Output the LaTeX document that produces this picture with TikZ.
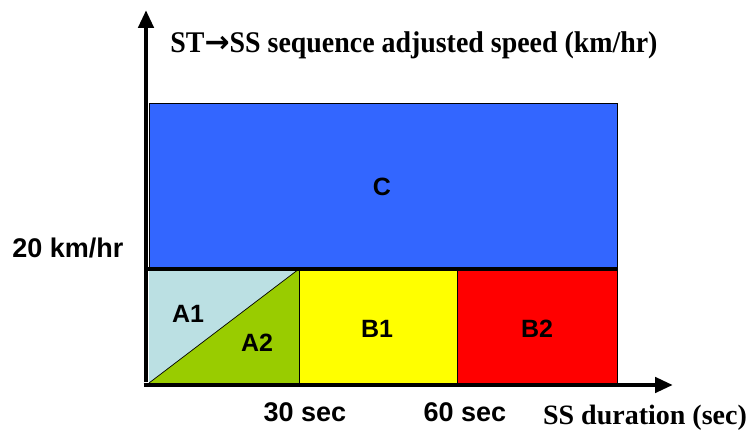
\documentclass[tikz,border=0pt]{standalone}
\usepackage{fontspec}
\setmainfont{Liberation Serif}
\setsansfont{Liberation Sans}
\newfontfamily\titlefont[FakeStretch=0.93]{Liberation Serif}
\newfontfamily\arrowfont{DejaVu Sans}
\usetikzlibrary{arrows.meta}
\definecolor{regA1}{HTML}{BBE0E3}
\definecolor{regA2}{HTML}{99CC00}
\definecolor{regB1}{HTML}{FFFF00}
\definecolor{regB2}{HTML}{FF0000}
\definecolor{regC}{HTML}{3366FF}

\begin{document}
\begin{tikzpicture}[line join=miter,x=1pt,y=-1pt,
    axis/.style={line width=4.5pt,-{Triangle[length=18pt,width=15pt]}},
    region/.style={draw=black,line width=0.7pt},
    lbl/.style={font=\sffamily\bfseries\fontsize{25}{28}\selectfont,anchor=base,inner sep=0pt},
    ticklbl/.style={font=\sffamily\bfseries\fontsize{27}{30}\selectfont,anchor=base,inner sep=0pt},
    axtitle/.style={font=\rmfamily\bfseries\fontsize{28}{31}\selectfont,anchor=base,inner sep=0pt}]
    \useasboundingbox (0,0) rectangle (748,430);
    \coordinate (O) at (146,385);
    \coordinate (ytip) at (146,10);
    \coordinate (xtip) at (673,385);
    % regions
    \fill [regA1] (149,383) -- (149,269) -- (299,269) -- cycle;
    \fill [regA2] (149,383) -- (299,269) -- (299,383) -- cycle;
    \draw [line width=0.7pt] (149,383) -- (299,269);
    \draw [region,fill=regB1] (299,269) rectangle (457,383);
    \draw [region,fill=regB2] (457,269) rectangle (617,383);
    \draw [region,fill=regC] (149,103) rectangle (617,269);
    \draw [line width=3.5pt] (146,269) -- (618,269);
    % axes
    \draw [axis] ([yshift=2.5pt]O) -- (ytip);
    \draw [axis] ([xshift=-2.5pt]O) -- (xtip);
    % labels
    \node [lbl] (labC) at (382,196) {C};
    \node [lbl] (labA1) at (188,323) {A1};
    \node [lbl] (labA2) at (257,352) {A2};
    \node [lbl] (labB1) at (377,338) {B1};
    \node [lbl] (labB2) at (537,338) {B2};
    \node [ticklbl] (speed20) at (68,258) {20 km/hr};
    \node [ticklbl] (sec30) at (305,422) {30 sec};
    \node [ticklbl] (sec60) at (465,422) {60 sec};
    \node [axtitle] (xtitle) at (645,425) {SS duration (sec)};
    \node [axtitle,font=\titlefont\bfseries\fontsize{30}{33}\selectfont] (ytitle) at (414,53)
        {ST{\arrowfont\bfseries →}SS sequence adjusted speed (km/hr)};
\end{tikzpicture}
\end{document}
